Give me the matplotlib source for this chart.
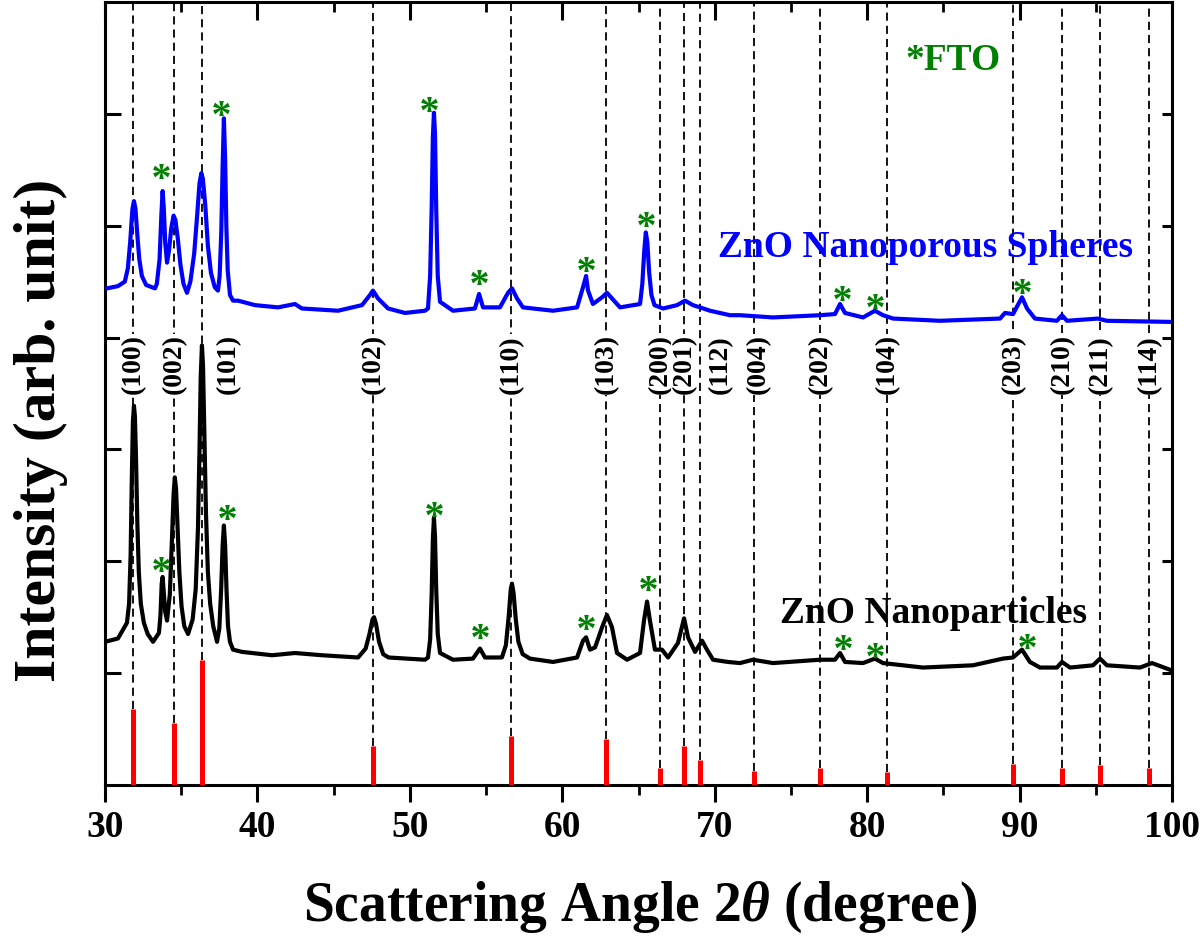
import matplotlib
matplotlib.use("Agg")
import numpy as np
import matplotlib.pyplot as plt
from matplotlib.textpath import TextPath
from matplotlib.font_manager import FontProperties
from matplotlib.path import Path

plt.rcParams['font.family'] = ['Liberation Serif', 'DejaVu Serif']
plt.rcParams['font.weight'] = 'bold'
plt.rcParams['mathtext.fontset'] = 'custom'
plt.rcParams['mathtext.rm'] = 'Liberation Serif:bold'
plt.rcParams['mathtext.it'] = 'Liberation Serif:bold:italic'
plt.rcParams['mathtext.bf'] = 'Liberation Serif:bold'

# ---------------- data ----------------
# ZnO Nanoporous Spheres (blue)
sph_x = [30.13, 30.85, 31.30, 31.50, 31.65, 31.80, 31.90, 32.00, 32.12, 32.25, 32.42, 32.70, 33.28,
         33.40, 33.58, 33.70, 33.78, 33.86, 33.95, 34.07, 34.20, 34.35, 34.50, 34.62, 34.78, 34.95,
         35.15, 35.38, 35.60, 35.85, 36.05, 36.20, 36.32, 36.42, 36.58, 36.75, 36.95, 37.20, 37.41,
         37.52, 37.63, 37.72, 37.80, 37.88, 37.96, 38.05, 38.20, 38.40, 38.73, 39.84, 41.35, 42.46,
         42.92, 45.29, 46.86, 47.38, 47.58, 47.91, 48.57, 49.68, 50.99, 51.19, 51.33, 51.43, 51.51,
         51.58, 51.65, 51.73, 51.83, 51.98, 52.83, 54.27, 54.54, 54.80, 55.91, 56.44, 56.70, 57.03,
         57.42, 59.39, 60.97, 61.36, 61.56, 61.69, 62.01, 62.61, 62.93, 63.26, 63.79, 65.10, 65.25,
         65.38, 65.48, 65.58, 65.70, 65.85, 66.05, 66.61, 67.53, 68.05, 68.57, 69.03, 69.69, 71.00,
         71.66, 73.82, 76.91, 77.89, 78.22, 78.55, 79.73, 80.51, 81.04, 81.70, 84.78, 88.72, 89.04,
         89.57, 90.16, 90.49, 91.01, 92.45, 92.78, 93.11, 95.14, 95.73, 99.87, 100.0]
sph_y = [4.44, 4.46, 4.50, 4.62, 4.85, 5.15, 5.22, 5.15, 4.92, 4.70, 4.55, 4.47, 4.44,
         4.48, 4.70, 5.10, 5.31, 5.15, 4.85, 4.67, 4.78, 4.98, 5.09, 5.05, 4.88, 4.65,
         4.48, 4.40, 4.50, 4.75, 5.10, 5.38, 5.47, 5.42, 5.18, 4.82, 4.58, 4.45, 4.42,
         4.55, 4.95, 5.55, 5.96, 5.60, 5.00, 4.60, 4.38, 4.33, 4.33, 4.29, 4.27, 4.30,
         4.26, 4.24, 4.29, 4.38, 4.42, 4.35, 4.26, 4.22, 4.24, 4.26, 4.55, 5.15, 5.80,
         6.01, 5.82, 5.15, 4.55, 4.32, 4.24, 4.26, 4.39, 4.27, 4.27, 4.40, 4.44, 4.35,
         4.27, 4.24, 4.27, 4.45, 4.55, 4.42, 4.30, 4.36, 4.40, 4.35, 4.27, 4.30, 4.48,
         4.78, 4.94, 4.85, 4.58, 4.38, 4.29, 4.26, 4.29, 4.33, 4.29, 4.27, 4.24, 4.20,
         4.20, 4.18, 4.20, 4.21, 4.30, 4.22, 4.18, 4.24, 4.20, 4.17, 4.15, 4.17, 4.22,
         4.21, 4.36, 4.26, 4.17, 4.15, 4.20, 4.15, 4.17, 4.15, 4.14, 4.14]

# ZnO Nanoparticles (black)
np_x = [30.00, 30.85, 31.44, 31.58, 31.68, 31.76, 31.83, 31.90, 31.96, 32.03, 32.12, 32.22, 32.35,
        32.55, 32.80, 33.15, 33.54, 33.64, 33.72, 33.78, 33.86, 33.95, 34.07, 34.25, 34.38, 34.50,
        34.58, 34.66, 34.76, 34.88, 35.02, 35.20, 35.45, 35.75, 35.95, 36.10, 36.20, 36.28, 36.36,
        36.43, 36.52, 36.62, 36.75, 36.90, 37.10, 37.35, 37.50, 37.62, 37.72, 37.80, 37.88, 37.97,
        38.07, 38.20, 38.40, 38.99, 40.96, 42.46, 44.24, 46.60, 47.10, 47.35, 47.55, 47.65, 47.78,
        47.98, 48.25, 48.60, 50.99, 51.19, 51.33, 51.43, 51.51, 51.58, 51.65, 51.73, 51.83, 51.98,
        52.83, 54.14, 54.60, 54.93, 56.04, 56.30, 56.48, 56.62, 56.70, 56.80, 56.95, 57.12, 57.40,
        57.88, 59.39, 60.97, 61.36, 61.56, 61.82, 62.15, 62.61, 62.93, 63.26, 63.59, 64.25, 65.10,
        65.36, 65.56, 65.75, 66.08, 66.54, 66.94, 67.59, 67.99, 68.25, 68.71, 69.17, 69.49, 69.89,
        70.87, 71.66, 72.51, 73.82, 76.91, 77.89, 78.22, 78.55, 79.73, 80.51, 81.04, 83.66, 86.94,
        88.91, 89.57, 90.16, 90.68, 91.34, 92.45, 92.78, 93.31, 94.82, 95.28, 95.73, 97.90, 98.69,
        99.87]
np_y = [1.28, 1.31, 1.45, 1.62, 2.05, 2.75, 3.25, 3.39, 3.30, 2.95, 2.35, 1.90, 1.62,
        1.45, 1.35, 1.28, 1.36, 1.52, 1.80, 1.86, 1.72, 1.55, 1.47, 1.70, 2.15, 2.60,
        2.75, 2.65, 2.30, 1.90, 1.60, 1.42, 1.35, 1.48, 1.75, 2.30, 3.00, 3.65, 3.93,
        3.75, 3.15, 2.45, 1.90, 1.62, 1.42, 1.28, 1.40, 1.75, 2.15, 2.32, 2.15, 1.75,
        1.42, 1.28, 1.21, 1.19, 1.16, 1.18, 1.16, 1.14, 1.22, 1.35, 1.48, 1.50, 1.44,
        1.28, 1.17, 1.14, 1.12, 1.14, 1.30, 1.70, 2.20, 2.39, 2.22, 1.75, 1.35, 1.18,
        1.12, 1.13, 1.22, 1.14, 1.14, 1.25, 1.50, 1.75, 1.80, 1.72, 1.48, 1.28, 1.17,
        1.13, 1.10, 1.14, 1.29, 1.32, 1.21, 1.23, 1.41, 1.52, 1.41, 1.18, 1.12, 1.18,
        1.47, 1.64, 1.47, 1.21, 1.21, 1.14, 1.27, 1.49, 1.32, 1.19, 1.29, 1.21, 1.12,
        1.10, 1.09, 1.12, 1.09, 1.12, 1.12, 1.18, 1.10, 1.09, 1.13, 1.09, 1.05, 1.07,
        1.13, 1.14, 1.21, 1.10, 1.05, 1.05, 1.10, 1.05, 1.07, 1.13, 1.07, 1.05, 1.09,
        1.03]

# Reference ZnO pattern (red sticks) and hkl labels
ref_pos = [31.84, 34.53, 36.36, 47.59, 56.64, 62.87, 66.42, 67.99, 69.04, 72.59, 76.92, 81.31, 89.58, 92.80, 95.29, 98.50]
ref_int = [0.68, 0.55, 1.12, 0.35, 0.44, 0.41, 0.15, 0.35, 0.22, 0.125, 0.15, 0.12, 0.19, 0.15, 0.18, 0.15]
hkl = ['(100)', '(002)', '(101)', '(102)', '(110)', '(103)', '(200)', '(201)', '(112)', '(004)', '(202)',
       '(104)', '(203)', '(210)', '(211)', '(114)']

# FTO asterisk marks
fto_sph_x = [33.67, 37.61, 51.26, 54.54, 61.56, 65.49, 78.35, 80.51, 90.16]
fto_sph_y = [5.49, 6.05, 6.09, 4.54, 4.66, 5.06, 4.40, 4.33, 4.46]
fto_np_x = [33.67, 38.00, 51.58, 54.60, 61.56, 65.62, 78.42, 80.51, 90.49]
fto_np_y = [1.98, 2.44, 2.47, 1.38, 1.46, 1.81, 1.28, 1.21, 1.29]

# ---------------- figure ----------------
fig = plt.figure(figsize=(12, 9.39), dpi=100)
ax = fig.add_axes([105/1200, 1 - 785/939, 1067/1200, 783/939])

label_shift = {'(101)': 1.75, '(112)': 1.35, '(004)': 0.3, '(201)': 0.05}

ax.vlines(ref_pos, ref_int, 7, colors='black', linestyles=(0, (4.5, 2.8)), lw=1.3, zorder=1)
ax.vlines(ref_pos, 0, ref_int, colors='red', lw=3.6, zorder=3)

for p, lab in zip(ref_pos, hkl):
    ax.text(p + label_shift.get(lab, 0.0), 3.76, lab, rotation=90, ha='center', va='center',
            fontsize=20, fontweight='bold', zorder=2,
            bbox=dict(facecolor='white', edgecolor='none', pad=0.5))

ax.plot(sph_x, sph_y, color='#0000FF', lw=3.0, zorder=4, solid_joinstyle='round')
ax.plot(np_x, np_y, color='black', lw=3.0, zorder=4, solid_joinstyle='round')

# asterisk glyph as a centred marker
tp = TextPath((0, 0), '*', size=1, prop=FontProperties(family='Liberation Serif', weight='bold'))
ext = tp.get_extents()
cx, cy = (ext.x0 + ext.x1) / 2, (ext.y0 + ext.y1) / 2
verts = np.array(tp.vertices, dtype=float)
codes = np.array(tp.codes)
verts[codes == Path.CLOSEPOLY] = [cx, cy]
star = Path(verts - [cx, cy], codes)

green = '#008000'
for xs, ys in ((fto_sph_x, fto_sph_y), (fto_np_x, fto_np_y)):
    ax.plot(xs, ys, ls='none', marker=star, ms=12, mew=0, color=green, zorder=5)

ax.text(70.22, 4.72, 'ZnO Nanoporous Spheres', color='#0000FF', fontsize=27, fontweight='bold',
        ha='left', va='baseline', zorder=6)
ax.text(74.28, 1.45, 'ZnO Nanoparticles', color='black', fontsize=27, fontweight='bold',
        ha='left', va='baseline', zorder=6)
ax.text(82.48, 6.39, '*FTO', color=green, fontsize=27, fontweight='bold',
        ha='left', va='baseline', zorder=6)

ax.set_xlim(30, 100)
ax.set_ylim(0, 7)
ax.set_xticks(range(30, 101, 10))
ax.set_xticks(range(35, 100, 10), minor=True)
ax.set_yticks(range(1, 7))
ax.set_yticklabels([])

for s in ax.spines.values():
    s.set_linewidth(2.2)

ax.tick_params(axis='x', which='major', direction='out', length=12, width=2.2, labelsize=27, pad=6,
               top=True, bottom=True)
ax.tick_params(axis='x', which='minor', direction='out', length=7, width=2.0, top=True, bottom=True)
ax.tick_params(axis='y', which='major', direction='in', length=11.5, width=2.2, left=True, right=True)
for lab in ax.get_xticklabels():
    lab.set_fontweight('bold')

# top ticks pointing inward, right ticks shorter
for t in ax.xaxis.get_major_ticks():
    t.tick2line.set_marker(3)  # TICKDOWN
    t.tick2line.set_markersize(13)
for t in ax.xaxis.get_minor_ticks():
    t.tick2line.set_marker(3)
    t.tick2line.set_markersize(7)
for t in ax.yaxis.get_major_ticks():
    t.tick2line.set_markersize(7.5)

fig.text(640/1200, 1 - 907/939, r'Scattering Angle 2$\theta$ (degree)', ha='center', va='center',
         fontsize=40, fontweight='bold')
fig.text(41/1200, 1 - 430/939, 'Intensity (arb. unit)', rotation=90, ha='center', va='center',
         fontsize=43, fontweight='bold')

fig.savefig('out.png', dpi=100)
